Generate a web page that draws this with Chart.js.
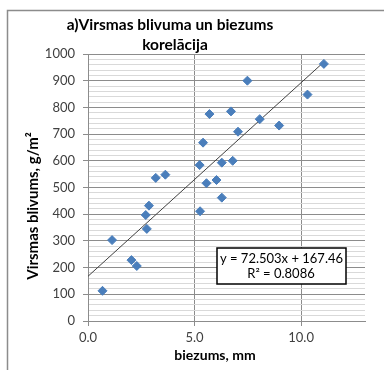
<!DOCTYPE html>
<html>
<head>
<meta charset="utf-8">
<script src="https://cdn.jsdelivr.net/npm/chart.js@4/dist/chart.umd.min.js"></script>
<style>
  body { margin: 0; background: #fff; }
  #wrap { width: 384px; height: 370px; }
</style>
</head>
<body>
<div id="wrap"><canvas id="chart" width="384" height="370"></canvas></div>
<script>
// biezums (mm) and virsmas blivums (g/m2)
var thickness = [0.68, 1.13, 2.04, 2.29, 2.71, 2.86, 2.76, 5.26, 3.18, 3.63, 5.24, 5.40, 5.56,
                 5.70, 11.07, 7.48, 10.3, 6.71, 8.06, 8.97, 7.04, 6.28, 6.79, 6.03, 6.28];
var density   = [113, 303, 228, 206, 397, 432, 345, 411, 536, 548, 584, 668, 516,
                 775, 963, 900, 848, 785, 756, 732, 709, 593, 600, 528, 462];

// linear trendline shown on the chart
var slope = 72.503;
var intercept = 167.46;
var trendX = [0, 11.07];

var titleLines = ["a)Virsmas blivuma un biezums", "korelācija"];
var xTitle = "biezums, mm";
var yTitle = "Virsmas blivums, g/m²";
var eqLines = ["y = 72.503x + 167.46", "R² = 0.8086"];

var points = [];
for (var i = 0; i < thickness.length; i++)
    points.push({x: thickness[i], y: density[i]});

var trend = trendX.map(function(x) { return {x: x, y: slope * x + intercept}; });

var fontFam = "Lato, 'Open Sans', sans-serif";
var major = "#8c8c8c";
var minor = "#d9d9d9";

// titles, frame and equation box
var decorations = {
    id: "decorations",
    afterDraw: function(chart) {
        var ctx = chart.ctx;
        ctx.save();
        ctx.strokeStyle = "#8c8c8c";
        ctx.lineWidth = 1.5;
        ctx.beginPath();
        ctx.moveTo(7.5, 370);
        ctx.lineTo(7.5, 10.5);
        ctx.lineTo(384, 10.5);
        ctx.stroke();

        ctx.fillStyle = "#000";
        ctx.textAlign = "center";
        ctx.textBaseline = "middle";
        ctx.font = "bold 15.5px " + fontFam;
        ctx.fillText(titleLines[0], 170, 25);
        ctx.fillText(titleLines[1], 175, 45);

        ctx.font = "bold 14px " + fontFam;
        ctx.fillText(xTitle, 215, 355);

        ctx.save();
        ctx.font = "bold 15px " + fontFam;
        ctx.translate(33, 206);
        ctx.rotate(-Math.PI / 2);
        ctx.fillText(yTitle, 0, 0);
        ctx.restore();

        ctx.fillStyle = "#fff";
        ctx.fillRect(217, 248, 129, 36);
        ctx.strokeStyle = "#000";
        ctx.lineWidth = 1.5;
        ctx.strokeRect(217, 248, 129, 36);
        ctx.fillStyle = "#000";
        ctx.font = "13px " + fontFam;
        ctx.fillText(eqLines[0], 281.5, 259);
        ctx.fillText(eqLines[1], 281, 274);
        ctx.restore();
    }
};

new Chart(document.getElementById("chart"), {
    type: "scatter",
    data: {
        datasets: [{
            label: "dati",
            data: points,
            pointStyle: "rectRot",
            pointRadius: 4.5,
            pointHoverRadius: 4.5,
            backgroundColor: "#4a7ebb",
            borderColor: "#4a7ebb",
            borderWidth: 1
        }, {
            label: "trend",
            type: "line",
            data: trend,
            borderColor: "#404040",
            borderWidth: 1,
            pointRadius: 0,
            fill: false
        }]
    },
    options: {
        responsive: false,
        animation: false,
        events: [],
        layout: { padding: { left: 0, right: 19, top: 54, bottom: 0 } },
        plugins: {
            legend: { display: false },
            title: { display: false },
            tooltip: { enabled: false }
        },
        scales: {
            x: {
                type: "linear",
                min: 0,
                max: 13,
                afterFit: function(scale) { scale.height = 49; },
                border: { color: major, width: 1 },
                grid: { color: major, tickLength: 5, tickColor: major },
                ticks: {
                    stepSize: 5,
                    includeBounds: false,
                    padding: 4,
                    color: "#404040",
                    font: { family: fontFam, size: 13 },
                    callback: function(v) { return v.toFixed(1); }
                }
            },
            y: {
                min: 0,
                max: 1000,
                afterFit: function(scale) { scale.width = 88; },
                border: { color: major, width: 1 },
                grid: {
                    tickLength: 5,
                    color: function(c) { return c.tick && c.tick.value % 100 === 0 ? major : minor; },
                    tickColor: function(c) { return c.tick && c.tick.value % 100 === 0 ? major : "rgba(0,0,0,0)"; }
                },
                ticks: {
                    stepSize: 20,
                    maxTicksLimit: 100,
                    autoSkip: false,
                    padding: 8,
                    color: "#404040",
                    font: { family: fontFam, size: 13 },
                    callback: function(v) { return v % 100 === 0 ? v : ""; }
                }
            }
        }
    },
    plugins: [decorations]
});
</script>
</body>
</html>
